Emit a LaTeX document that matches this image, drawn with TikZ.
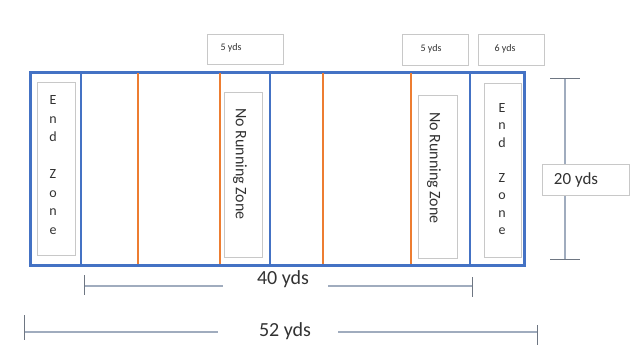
\documentclass[tikz,border=0pt]{standalone}
\usepackage{fontspec}
\setmainfont{Carlito}
\usepackage{xcolor}
\definecolor{fieldblue}{RGB}{68,114,196}
\definecolor{lineorange}{RGB}{237,125,49}
\definecolor{boxgray}{RGB}{200,200,200}
\definecolor{dimgray}{RGB}{160,172,190}
\definecolor{tickgray}{RGB}{110,118,130}
\definecolor{txtgray}{RGB}{50,50,50}

\tikzset{
  labelbox/.style={draw=boxgray, line width=0.8pt, fill=white, text=txtgray, inner sep=0pt},
  dimline/.style={dimgray, line width=1.2pt},
  dimtick/.style={tickgray, line width=1pt}
}

\begin{document}
\begin{tikzpicture}[x=1pt,y=-1pt]
                \useasboundingbox (0,0) rectangle (639,356);

                % Campo
                \draw[fieldblue, line width=3pt] (30,72) rectangle (524,265);
                \draw[fieldblue, line width=2pt] (81,72) -- (81,265);
                \draw[fieldblue, line width=2pt] (270,72) -- (270,265);
                \draw[fieldblue, line width=2pt] (470,72) -- (470,265);

                % Linee arancioni
                \draw[lineorange, line width=2pt] (138,73) -- (138,264);
                \draw[lineorange, line width=2pt] (220,73) -- (220,264);
                \draw[lineorange, line width=2pt] (323,73) -- (323,264);
                \draw[lineorange, line width=2pt] (411,73) -- (411,264);

                % End zone
                \draw[boxgray, line width=0.8pt] (37,82) rectangle (75,255);
                \draw[boxgray, line width=0.8pt] (484,83) rectangle (521,257);
                \node[text=txtgray, align=center, font=\fontsize{14}{18.5}\selectfont] (endL) at (53,165)
                    {E\\n\\d\\[18.5pt]Z\\o\\n\\e};
                \node[text=txtgray, align=center, font=\fontsize{14}{17.5}\selectfont] (endR) at (502,169)
                    {E\\n\\d\\[17.5pt]Z\\o\\n\\e};

                % No running zone
                \draw[boxgray, line width=0.8pt] (224,92) rectangle (262,257);
                \draw[boxgray, line width=0.8pt] (418,95) rectangle (457,258);
                \node[text=txtgray, rotate=-90, font=\fontsize{16}{18}\selectfont] (nrzL) at (240,164) {No Running Zone};
                \node[text=txtgray, rotate=-90, font=\fontsize{16}{18}\selectfont] (nrzR) at (434,168) {No Running Zone};

                % Misure in alto
                \node[labelbox, minimum width=76pt, minimum height=30pt] (fiveL) at (245,49) {};
                \node[text=txtgray, font=\fontsize{10}{11}\selectfont] (fiveLtxt) at (231,48) {5 yds};
                \node[labelbox, minimum width=66pt, minimum height=31pt] (fiveR) at (435,50) {};
                \node[text=txtgray, font=\fontsize{10}{11}\selectfont] (fiveRtxt) at (431,49) {5 yds};
                \node[labelbox, minimum width=66pt, minimum height=31pt] (six) at (511,50) {};
                \node[text=txtgray, font=\fontsize{10}{11}\selectfont] (sixtxt) at (505,49) {6 yds};

                % 20 yds
                \coordinate (wideT) at (565,78);
                \coordinate (wideB) at (565,259);
                \draw[dimline] (wideT) -- (wideB);
                \draw[dimtick] (550,78) -- (580,78);
                \draw[dimtick] (550,259) -- (580,259);
                \node[labelbox, minimum width=87pt, minimum height=31pt] (twenty) at (586,180) {};
                \node[text=txtgray, font=\fontsize{17}{19}\selectfont] (twentytxt) at (576,180) {20 yds};

                % 40 yds
                \coordinate (fortyA) at (84,286);
                \coordinate (fortyB) at (472,286);
                \node[text=txtgray, font=\fontsize{20}{22}\selectfont] (forty) at (283,279) {40 yds};
                \draw[dimline] (fortyA) -- (223,286);
                \draw[dimline] (328,286) -- (fortyB);
                \draw[dimtick] (84,275) -- (84,295);
                \draw[dimtick] (472,277) -- (472,297);

                % 52 yds
                \coordinate (fiftyA) at (24,332);
                \coordinate (fiftyB) at (537,332);
                \node[text=txtgray, font=\fontsize{20}{22}\selectfont] (fifty) at (285,331) {52 yds};
                \draw[dimline] (fiftyA) -- (218,332);
                \draw[dimline] (338,332) -- (fiftyB);
                \draw[dimtick] (24,315) -- (24,340);
                \draw[dimtick] (537,325) -- (537,345);
\end{tikzpicture}
\end{document}
